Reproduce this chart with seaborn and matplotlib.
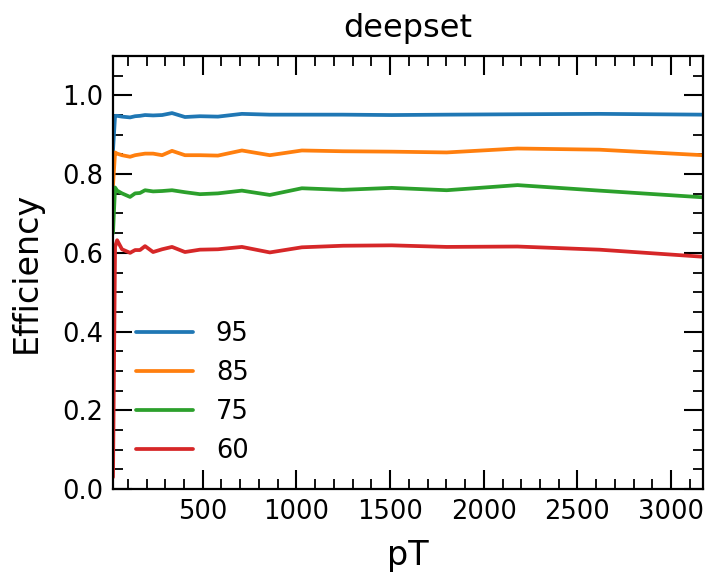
import matplotlib
matplotlib.use("Agg")
import matplotlib.pyplot as plt
from matplotlib.ticker import MultipleLocator
import seaborn as sns
import pandas as pd

# ---- data ----
pt = [21, 32, 43, 69, 112, 139, 165, 192, 235, 283, 336, 405, 485, 581,
      709, 858, 1029, 1248, 1509, 1802, 2180, 2617, 3170]

eff_95 = [0.86, 0.948, 0.948, 0.946, 0.944, 0.947, 0.948, 0.950, 0.949, 0.950,
          0.955, 0.945, 0.947, 0.946, 0.953, 0.951, 0.951, 0.951, 0.950, 0.951,
          0.952, 0.953, 0.951]
eff_85 = [0.77, 0.855, 0.852, 0.848, 0.844, 0.848, 0.850, 0.852, 0.852, 0.848,
          0.859, 0.848, 0.848, 0.847, 0.860, 0.848, 0.860, 0.858, 0.857, 0.855,
          0.865, 0.862, 0.848]
eff_75 = [0.65, 0.766, 0.758, 0.751, 0.742, 0.751, 0.752, 0.759, 0.756, 0.757,
          0.759, 0.754, 0.749, 0.751, 0.758, 0.747, 0.764, 0.760, 0.765, 0.759,
          0.772, 0.758, 0.741]
eff_60 = [0.03, 0.615, 0.632, 0.609, 0.600, 0.607, 0.607, 0.617, 0.602, 0.609,
          0.615, 0.602, 0.608, 0.609, 0.615, 0.601, 0.614, 0.618, 0.619, 0.615,
          0.616, 0.608, 0.590]

series_labels = ["95", "85", "75", "60"]
series_values = [eff_95, eff_85, eff_75, eff_60]
colors = ["#1f77b4", "#ff7f0e", "#2ca02c", "#d62728"]

title_text = "deepset"
x_label = "pT"
y_label = "Efficiency"

# ---- long-form table ----
rows = []
for lab, vals in zip(series_labels, series_values):
    for x, v in zip(pt, vals):
        rows.append({"pT": x, "Efficiency": v, "wp": lab})
df = pd.DataFrame(rows)

sns.set_style("ticks")
plt.rcParams["font.family"] = ["DejaVu Sans"]
plt.rcParams.update({
    "text.color": "black", "axes.labelcolor": "black",
    "xtick.labelcolor": "black", "ytick.labelcolor": "black",
    "xtick.direction": "in", "ytick.direction": "in",
    "xtick.top": True, "ytick.right": True,
    "xtick.minor.visible": True, "ytick.minor.visible": True,
    "xtick.major.size": 14, "ytick.major.size": 14,
    "xtick.minor.size": 7, "ytick.minor.size": 7,
    "xtick.major.width": 1.5, "ytick.major.width": 1.5,
    "xtick.minor.width": 1.3, "ytick.minor.width": 1.3,
    "axes.linewidth": 1.6,
    "xtick.color": "black", "ytick.color": "black",
    "axes.edgecolor": "black",
})

fig = plt.figure(figsize=(7.05, 5.72), dpi=100)
ax = fig.add_axes([113 / 705, 83 / 572, 590 / 705, 433 / 572])

sns.lineplot(data=df, x="pT", y="Efficiency", hue="wp",
             hue_order=series_labels, palette=colors, linewidth=2.7,
             ax=ax, estimator=None, sort=True)

ax.set_xlim(min(pt), max(pt))
ax.set_ylim(0, 1.1)
ax.xaxis.set_major_locator(MultipleLocator(500))
ax.xaxis.set_minor_locator(MultipleLocator(100))
ax.yaxis.set_major_locator(MultipleLocator(0.2))
ax.yaxis.set_minor_locator(MultipleLocator(0.05))
ax.tick_params(which="both", top=True, right=True, direction="in",
               labelsize=18.5, pad=7, colors="black")

ax.set_xlabel(x_label, fontsize=24, labelpad=10)
ax.set_ylabel(y_label, fontsize=24, labelpad=14)
ax.set_title(title_text, fontsize=23, pad=14)

sns.move_legend(ax, "lower left", title=None, frameon=False, fontsize=18.5,
                handlelength=2.2, handletextpad=0.9, labelspacing=0.5,
                bbox_to_anchor=(0.0, 0.005))

fig.savefig("out.png", dpi=100)
